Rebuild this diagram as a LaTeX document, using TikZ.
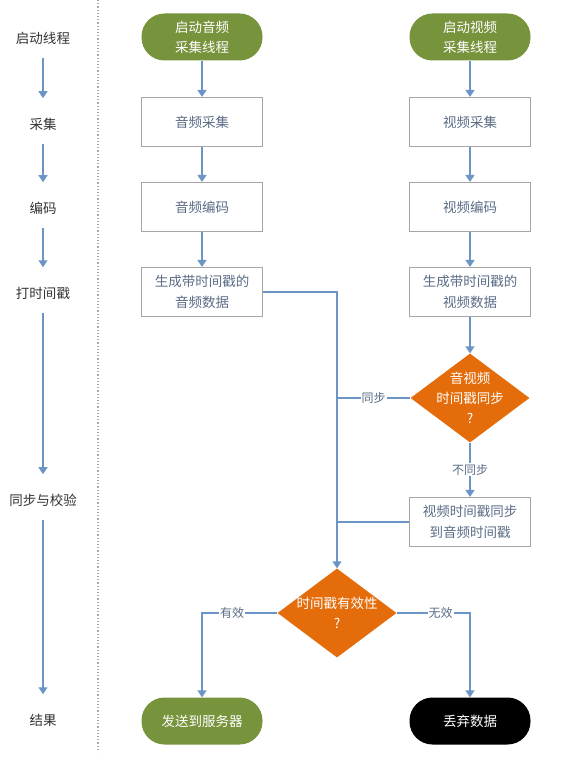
\documentclass[tikz,border=0pt]{standalone}
\usepackage{fontspec}
\setmainfont{Noto Sans CJK SC}
\usepackage{tikz}
\usetikzlibrary{arrows.meta,shapes.geometric}

\definecolor{flecha}{HTML}{6A95C4}
\definecolor{verde}{HTML}{77933C}
\definecolor{naranja}{HTML}{E46C0A}
\definecolor{textocaja}{HTML}{5B6C86}
\definecolor{borde}{HTML}{A6A6A6}

\tikzset{
  flujo/.style={draw=flecha, line width=1.4pt, -{Triangle[width=9pt,length=7pt]}},
  linea/.style={draw=flecha, line width=1.4pt},
  etapa/.style={text=black!80, font=\fontsize{13.5}{16}\selectfont},
  caja/.style={draw=borde, line width=1.2pt, fill=white, text=textocaja,
    minimum width=121pt, minimum height=49pt, inner sep=2pt, align=center,
    font=\fontsize{13.5}{21}\selectfont},
  inicio/.style={fill=verde, text=white, rounded corners=23pt,
    minimum width=121pt, minimum height=47pt, align=center,
    font=\fontsize{13.5}{20}\selectfont},
  fin/.style={inicio, fill=black},
  pregunta/.style={diamond, fill=naranja, inner sep=0pt,
    minimum width=119pt, minimum height=89pt},
  textopregunta/.style={text=white, align=center, inner sep=0pt,
    font=\fontsize{13.5}{20}\selectfont},
  etiqueta/.style={fill=white, text=textocaja, inner sep=1pt,
    font=\fontsize{12}{14}\selectfont}
}

\begin{document}
\begin{tikzpicture}[x=1pt,y=-1pt]
    \useasboundingbox (0,0) rectangle (562,765);

    % Columna de etapas
    \node[etapa] (e1) at (43,38) {启动线程};
    \node[etapa] (e2) at (43,124) {采集};
    \node[etapa] (e3) at (43,208) {编码};
    \node[etapa] (e4) at (43,293) {打时间戳};
    \node[etapa] (e5) at (43,500) {同步与校验};
    \node[etapa] (e6) at (43,720) {结果};
    \foreach \a/\b in {e1/e2,e2/e3,e3/e4,e4/e5,e5/e6}
        \draw[flujo, line width=1.2pt, shorten <=10pt, shorten >=16pt] (\a) -- (\b);

    % Separador punteado
    \draw[borde, line width=1.2pt, dotted] (98,0) -- (98,752);

    % Rama de audio
    \node[inicio] (ia) at (202,37) {启动音频\\采集线程};
    \node[caja] (ca) at (202,122) {音频采集};
    \node[caja] (ea) at (202,207) {音频编码};
    \node[caja] (da) at (202,292) {生成带时间戳的\\音频数据};

    % Rama de video
    \node[inicio] (iv) at (470,37) {启动视频\\采集线程};
    \node[caja] (cv) at (470,122) {视频采集};
    \node[caja] (ev) at (470,207) {视频编码};
    \node[caja] (dv) at (470,292) {生成带时间戳的\\视频数据};

    % Decisiones
    \node[pregunta] (sinc) at (470,398) {};
    \node[textopregunta] (tsinc) at (sinc) {音视频\\时间戳同步\\?};
    \node[caja] (ajuste) at (470,522) {视频时间戳同步\\到音频时间戳};
    \node[pregunta] (valido) at (337,613) {};
    \node[textopregunta] (tvalido) at (valido) {时间戳有效性\\?};

    % Resultados
    \node[inicio] (envio) at (202,721) {发送到服务器};
    \node[fin] (descarte) at (470,721) {丢弃数据};

    % Conexiones
    \draw[flujo] (ia) -- (ca);
    \draw[flujo] (ca) -- (ea);
    \draw[flujo] (ea) -- (da);
    \draw[flujo] (iv) -- (cv);
    \draw[flujo] (cv) -- (ev);
    \draw[flujo] (ev) -- (dv);
    \draw[flujo] (dv) -- (sinc);
    \draw[flujo] (da.east) -| (valido.north);
    \draw[linea] (sinc.west) -- node[etiqueta] {同步} (sinc.west -| valido.north);
    \draw[flujo] (sinc.south) -- node[etiqueta] {不同步} (ajuste.north);
    \draw[linea] (ajuste.west) -- (ajuste.west -| valido.north);
    \draw[flujo] (valido.west) -| node[etiqueta, pos=0.3] {有效} (envio.north);
    \draw[flujo] (valido.east) -| node[etiqueta, pos=0.3] {无效} (descarte.north);
\end{tikzpicture}
\end{document}
